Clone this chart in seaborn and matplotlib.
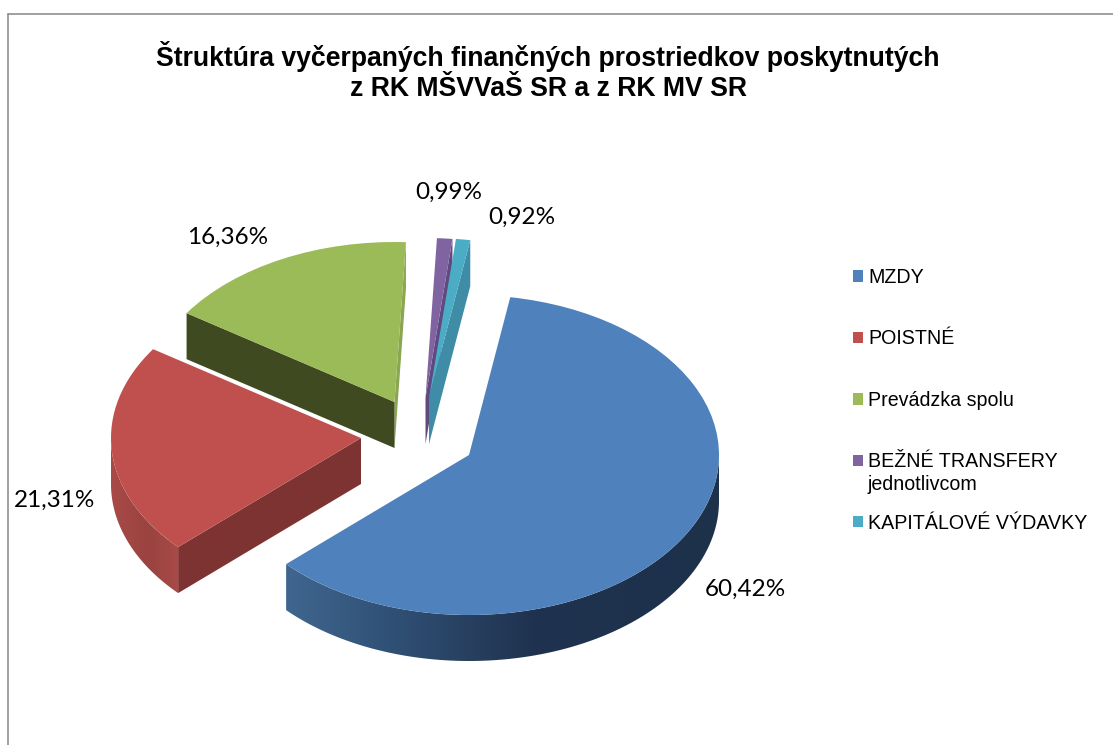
import numpy as np
import matplotlib
matplotlib.use('Agg')
import matplotlib.pyplot as plt
from matplotlib.colors import LinearSegmentedColormap
from matplotlib.lines import Line2D
from matplotlib.patches import Polygon
import seaborn as sns

sns.set_theme(style='white')
plt.rcParams['font.family'] = ['Liberation Sans', 'DejaVu Sans']

# data
categories = ['MZDY', 'POISTNÉ', 'Prevádzka spolu', 'BEŽNÉ TRANSFERY', 'KAPITÁLOVÉ VÝDAVKY']
values = [60.42, 21.31, 16.36, 0.99, 0.92]
title = 'Štruktúra vyčerpaných finančných prostriedkov poskytnutých\nz RK MŠVVaŠ SR a z RK MV SR'

# layout, everything in pixels of the picture
W, H = 1113, 745
cx, cy = 469, 455
rx, ry = 250, 160
depth = 46 / ry
apex_px = [(469, 455), (361, 438), (394.5, 402), (425.5, 398), (429, 398)]
label_px = [(745, 589), (55, 500), (228, 237), (449, 192.5), (522, 217)]

# styles
colors = sns.color_palette(['#4f81bd', '#c0504d', '#9bbb59', '#8064a2', '#4bacc6'])
outer_wall = [
    [(0, '#40668f'), (.27, '#2e4e72'), (.43, '#283f5f'), (.57, '#1f3350'), (1, '#1d314b')],
    [(0, '#a84a48'), (.55, '#9a4340'), (1, '#a84a48')],
    None, None, None,
]
# (edge at theta1, edge at theta2)
cut_wall = [(None, None), (None, '#7d3332'), ('#8aa650', '#3f4a20'), ('#5f4a80', None), ('#3e8ca5', None)]
draw_order = [3, 4, 2, 1, 0]


def px(x, y):
    return (x - cx) / rx, (cy - y) / ry


fig = plt.figure(figsize=(W / 100, H / 100), dpi=100)
ax = fig.add_axes([0, 0, 1, 1])
wedges, _ = ax.pie(values, colors=colors, startangle=80.5, counterclock=False,
                   wedgeprops={'linewidth': 0})
ax.set_aspect('auto')

z = 2
for i in draw_order:
    w = wedges[i]
    w.set_center(px(*apex_px[i]))
    c0, c1 = w.center

    # straight walls along the cuts
    for theta, col, sign in ((w.theta1, cut_wall[i][0], 1), (w.theta2, cut_wall[i][1], -1)):
        if col is None or sign * np.cos(np.radians(theta)) <= 0:
            continue
        ex = c0 + np.cos(np.radians(theta))
        ey = c1 + np.sin(np.radians(theta))
        ax.add_patch(Polygon([(c0, c1), (ex, ey), (ex, ey - depth), (c0, c1 - depth)],
                             closed=True, fc=col, lw=0, zorder=z))
        z += 1

    # rounded wall, only the part facing us
    if outer_wall[i] is not None:
        t = np.radians(np.linspace(w.theta1, w.theta2, 400))
        t = t[np.sin(t) <= 0]
        ax_x = c0 + np.cos(t)
        ax_y = c1 + np.sin(t)
        pts = np.r_[np.c_[ax_x, ax_y], np.c_[ax_x, ax_y - depth][::-1]]
        cmap = LinearSegmentedColormap.from_list('wall', outer_wall[i])
        im = ax.imshow(np.linspace(0, 1, 256)[None, :], cmap=cmap, aspect='auto',
                       extent=(ax_x.min(), ax_x.max(), (ax_y - depth).min(), ax_y.max()),
                       zorder=z, interpolation='bilinear')
        im.set_clip_path(Polygon(pts, closed=True, transform=ax.transData))
        z += 1

    w.set_zorder(z)
    z += 1

    lx, ly = px(*label_px[i])
    ax.text(lx, ly, f'{values[i]:.2f}'.replace('.', ',') + '%', ha='center', va='center',
            family=['Lato', 'DejaVu Sans'], fontsize=17.5, color='black', zorder=50)

ax.set_xlim(px(0, 0)[0], px(W, 0)[0])
ax.set_ylim(px(0, H)[1], px(0, 0)[1])
ax.axis('off')

fig.text(548 / W, 1 - 71.5 / H, title, ha='center', va='center', fontsize=19.2, fontweight='bold',
         color='black', linespacing=1.15)

leg = ax.legend(wedges, categories, loc='upper left', bbox_to_anchor=(853 / W, 1 - 268 / H),
                bbox_transform=fig.transFigure, frameon=False, fontsize=14.1, borderpad=0, borderaxespad=0,
                handlelength=0.52, handleheight=0.52, handletextpad=0.26, labelspacing=2.165)
for txt in leg.get_texts():
    txt.set_color('black')
fig.text(868 / W, 1 - 484 / H, 'jednotlivcom', ha='left', va='center', fontsize=14.1, color='black')

# frame of the chart, only left and top are in the crop
for xs, ys in (([7.5, 7.5], [H, 13.5]), ([7.5, W], [13.5, 13.5])):
    fig.add_artist(Line2D(np.array(xs) / W, 1 - np.array(ys) / H, color='#868686', lw=1.1))

fig.savefig('out.png', dpi=100)
